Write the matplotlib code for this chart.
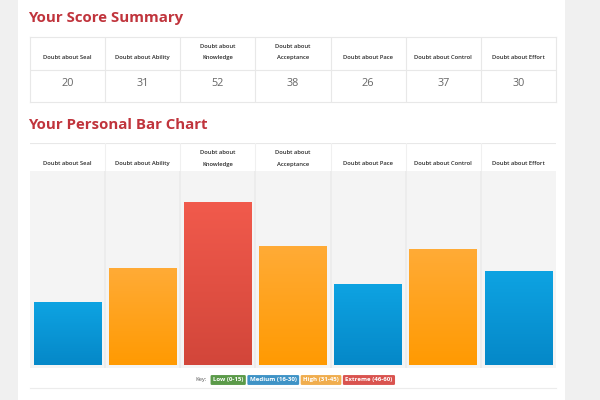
import matplotlib.pyplot as plt
import numpy as np
from matplotlib.colors import LinearSegmentedColormap

# Данные
headers = ['Doubt about Seal', 'Doubt about Ability', 'Doubt about\nKnowledge',
           'Doubt about\nAcceptance', 'Doubt about Pace', 'Doubt about Control',
           'Doubt about Effort']
scores = [20, 31, 52, 38, 26, 37, 30]
levels = ['medium', 'high', 'extreme', 'high', 'medium', 'high', 'medium']
key_labels = ['Low (0-15)', 'Medium (16-30)', 'High (31-45)', 'Extreme (46-60)']
key_colors = ['#5b9a49', '#3f93c6', '#f0ad4e', '#d9534f']

# Градиенты столбцов (верх, низ)
grad = {'medium': ('#0ea3e2', '#0588c8'),
        'high': ('#ffab36', '#ff9a02'),
        'extreme': ('#f15a4c', '#d2463a')}

W, H = 600, 400
title_col = '#c0343c'
line_col = '#e8e8e8'
plt.rcParams['font.family'] = ['Open Sans', 'DejaVu Sans']


def px_axes(fig, left, top, right, bottom):
    return fig.add_axes([left / W, 1 - bottom / H, (right - left) / W, (bottom - top) / H])


fig = plt.figure(figsize=(6, 4), dpi=100, facecolor='#f0f0f0')
# белая панель страницы
bg = px_axes(fig, 18, 0, 565, 400)
bg.set_facecolor('white')
bg.set_xticks([])
bg.set_yticks([])
for s in bg.spines.values():
    s.set_visible(False)

n = len(scores)
x = np.arange(n)

fig.text(28 / W, 1 - 18 / H, 'Your Score Summary', color=title_col, fontsize=10.8,
         fontweight='bold', va='center', ha='left')
fig.text(28 / W, 1 - 125 / H, 'Your Personal Bar Chart', color=title_col, fontsize=10.8,
         fontweight='bold', va='center', ha='left')

# Таблица с итогами
tab = px_axes(fig, 30, 37, 556, 102)
tab.set_xlim(-0.5, n - 0.5)
tab.set_ylim(2, 0)
tab.set_facecolor('none')
tab.set_xticks([])
tab.set_yticks([])
for s in tab.spines.values():
    s.set_color(line_col)
    s.set_linewidth(0.8)
tab.axhline(1, color=line_col, lw=0.8)
for b in x[:-1] + 0.5:
    tab.axvline(b, color=line_col, lw=0.8)
for i in range(n):
    two = '\n' in headers[i]
    tab.text(x[i], 0.64 if not two else 0.46, headers[i], ha='center', va='center',
             fontsize=4.2, color='#2a2a2a', fontweight='semibold', linespacing=2.6)
    tab.text(x[i], 1.42, str(scores[i]), ha='center', va='center',
             fontsize=7.8, color='#666666')

# Заголовки диаграммы
hd = px_axes(fig, 30, 143, 556, 171)
hd.set_xlim(-0.5, n - 0.5)
hd.set_ylim(1, 0)
hd.set_facecolor('none')
hd.set_xticks([])
hd.set_yticks([])
for s in hd.spines.values():
    s.set_visible(False)
hd.axhline(0, color=line_col, lw=0.8)
for b in x[:-1] + 0.5:
    hd.axvline(b, color='#f0f0f0', lw=0.8)
for i in range(n):
    two = '\n' in headers[i]
    hd.text(x[i], 0.72 if not two else 0.55, headers[i], ha='center', va='center',
            fontsize=4.2, color='#2a2a2a', fontweight='semibold', linespacing=2.6)

# Столбчатая диаграмма
ax = px_axes(fig, 30, 171, 556, 368)
ax.set_facecolor('#f4f4f4')
ax.set_xticks([])
ax.set_yticks([])
for s in ax.spines.values():
    s.set_visible(False)
for b in x[:-1] + 0.5:
    ax.axvline(b, color='#ebebeb', lw=1.2)

bars = ax.bar(x, scores, width=0.9, color='none', edgecolor='none')
for bar, lv in zip(bars, levels):
    top, bot = grad[lv]
    cmap = LinearSegmentedColormap.from_list(lv, [bot, top])
    x0, w, h = bar.get_x(), bar.get_width(), bar.get_height()
    im = ax.imshow(np.linspace(0, 1, 100).reshape(-1, 1), cmap=cmap, origin='lower',
                   extent=[x0, x0 + w, 0, h], aspect='auto', zorder=2)
    im.set_clip_path(bar)
ax.set_xlim(-0.5, n - 0.5)
ax.set_ylim(-0.96, 62)

# Легенда
fig.text(207 / W, 1 - 380 / H, 'Key:', fontsize=4.2, color='#555555', ha='right', va='center')
xpos = 213
for lab, col in zip(key_labels, key_colors):
    t = fig.text(xpos / W, 1 - 380 / H, lab, fontsize=4.4, color='white', fontweight='bold',
                 ha='left', va='center',
                 bbox=dict(boxstyle='round,pad=0.4,rounding_size=0.2', fc=col, ec='none'))
    fig.canvas.draw()
    bb = t.get_bbox_patch().get_window_extent()
    xpos = bb.x1 + 4

# нижняя линия
fig.add_artist(plt.Line2D([30 / W, 556 / W], [1 - 388 / H, 1 - 388 / H],
                          color='#ececec', lw=0.8))

fig.savefig('out.png', dpi=100, facecolor=fig.get_facecolor())
